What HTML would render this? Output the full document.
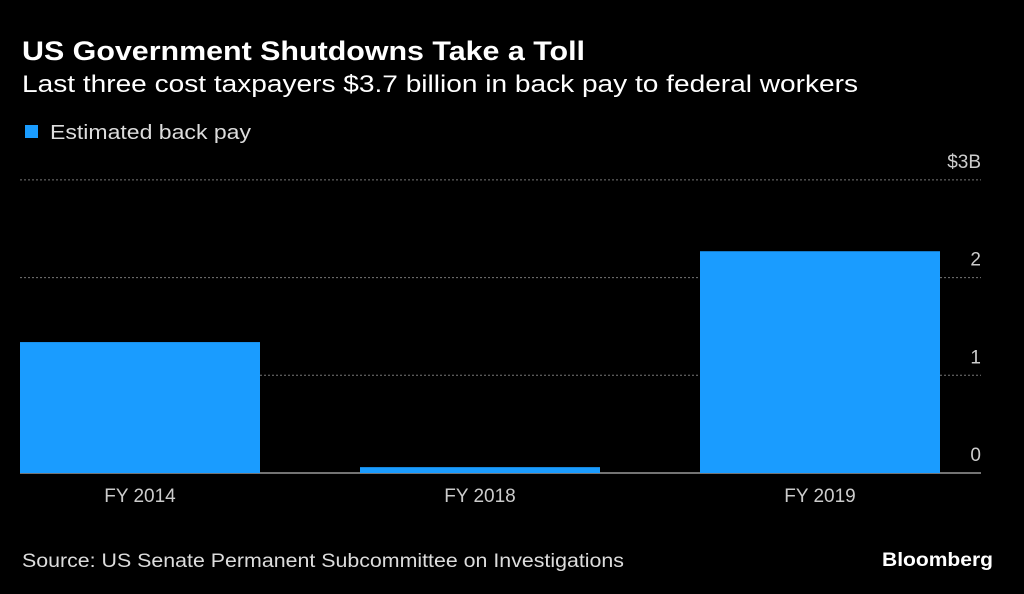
<!DOCTYPE html>
<html><head><meta charset="utf-8"><style>
html,body{margin:0;padding:0;background:#000;}
svg{display:block;font-family:"Liberation Sans",sans-serif;}
</style></head><body>
<svg id="chart" width="1024" height="594" viewBox="0 0 1024 594">
<rect width="1024" height="594" fill="#000"/>
<text x="22" y="60" fill="#fff" font-size="27" font-weight="bold" textLength="563" lengthAdjust="spacingAndGlyphs">US Government Shutdowns Take a Toll</text>
<text x="22" y="92" fill="#fff" font-size="24" textLength="836" lengthAdjust="spacingAndGlyphs">Last three cost taxpayers $3.7 billion in back pay to federal workers</text>
<rect x="25" y="125" width="13" height="13" fill="#1a9cff"/>
<text x="50" y="139" fill="#ddd" font-size="20" textLength="201" lengthAdjust="spacingAndGlyphs">Estimated back pay</text>
<g id="grid"></g>
<g id="bars"></g>
<g id="xlabels"></g>
<text x="22" y="567" fill="#ddd" font-size="19" textLength="602" lengthAdjust="spacingAndGlyphs">Source: US Senate Permanent Subcommittee on Investigations</text>
<text x="882" y="566" fill="#fff" font-size="19" font-weight="bold" textLength="111" lengthAdjust="spacingAndGlyphs">Bloomberg</text>
</svg>
<script>
const categories = ["FY 2014","FY 2018","FY 2019"];
const values = [1.34, 0.06, 2.27];
const ticks = [0,1,2,3];
const tickLabels = ["0","1","2","$3B"];

const NS="http://www.w3.org/2000/svg";
const y0=473, unit=97.7, left=20, right=981, band=340, barW=240;
const y=v=>y0-v*unit;
const xb=i=>left+i*band;
function mk(tag,attrs,parent){const e=document.createElementNS(NS,tag);for(const k in attrs)e.setAttribute(k,attrs[k]);parent.appendChild(e);return e;}
const grid=document.getElementById('grid'), bars=document.getElementById('bars'), xl=document.getElementById('xlabels');
ticks.forEach((t,i)=>{
  if(t>0){
    const l=mk('line',{x1:left,x2:right,y1:y(t),y2:y(t),stroke:'#777','stroke-width':1,'stroke-dasharray':'2,2'},grid);
    
    
  }
  const tx=mk('text',{x:right,y:y(t)-12,fill:'#ccc','font-size':19,'text-anchor':'end'},grid);
  tx.textContent=tickLabels[i];
  
  
});
values.forEach((v,i)=>{
  const r=mk('rect',{x:xb(i),y:y(v),width:barW,height:y0-y(v),fill:'#1a9cff'},bars);
  
  
  const t=mk('text',{x:xb(i)+barW/2,y:502,fill:'#ccc','font-size':19,'text-anchor':'middle'},xl);
  t.textContent=categories[i];
  
  
});
const base=mk('line',{x1:left,x2:right,y1:y0,y2:y0,stroke:'#999','stroke-width':1.5},grid);


</script>
</body></html>
